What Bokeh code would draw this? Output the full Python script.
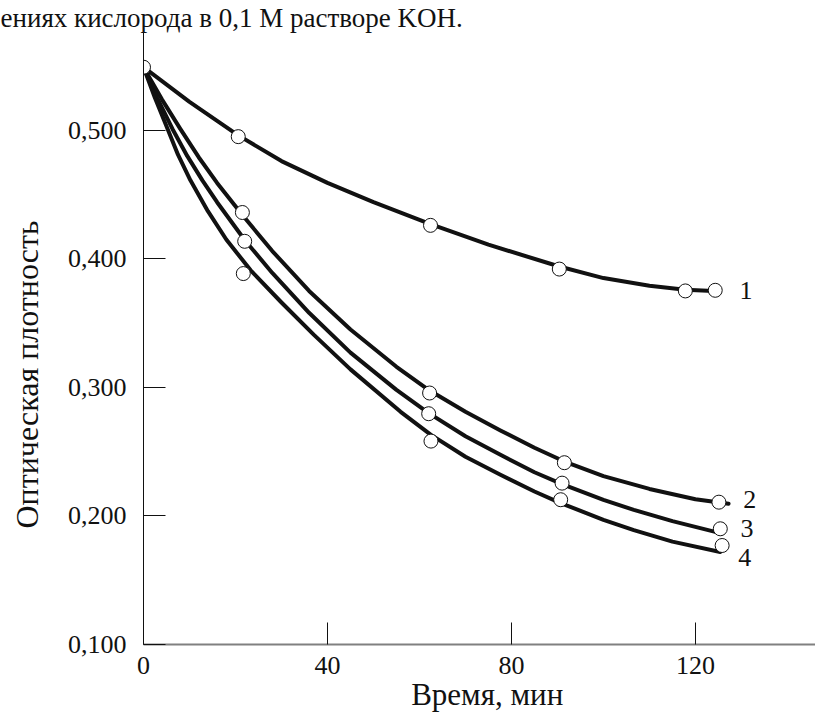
from bokeh.plotting import figure
from bokeh.models import Range1d, FixedTicker, CustomJSTickFormatter, ColumnDataSource
from bokeh.core.properties import value
from bokeh.embed import file_html
from bokeh.resources import INLINE

# ---- data ----
title_text = "ениях кислорода в 0,1 М растворе KOH."
x_title = "Время, мин"
y_title = "Оптическая плотность"
x_ticks = [0, 40, 80, 120]
y_ticks = [0.1, 0.2, 0.3, 0.4, 0.5]

# measured points (circles)
p1_t = [0, 20.6, 62.4, 90.4, 117.8, 124.3]
p1_y = [0.549, 0.495, 0.426, 0.392, 0.375, 0.3755]
p2_t = [21.5, 62.2, 91.5, 125.1]
p2_y = [0.436, 0.2956, 0.2414, 0.2107]
p3_t = [22.0, 62.0, 91.0, 125.4]
p3_y = [0.4136, 0.2795, 0.2255, 0.190]
p4_t = [21.7, 62.5, 90.7, 125.8]
p4_y = [0.3885, 0.2582, 0.2126, 0.177]

# smooth drawn curves
c1_t = [0, 10, 20.6, 30, 40, 50, 62.4, 75, 90.4, 100, 110, 117.8, 123.9]
c1_y = [0.549, 0.522, 0.496, 0.476, 0.459, 0.444, 0.427, 0.411, 0.394, 0.385, 0.379, 0.376, 0.375]
c2_t = [0, 4, 8, 12, 16, 21.5, 28, 36, 45, 55, 62.2, 70, 77.6, 85, 91.4, 100, 110, 120, 127.2]
c2_y = [0.549, 0.524, 0.501, 0.479, 0.459, 0.434, 0.406, 0.375, 0.345, 0.316, 0.2975, 0.281,
        0.2665, 0.253, 0.2425, 0.231, 0.221, 0.213, 0.2095]
c3_t = [0, 3, 6.3, 9.5, 12.8, 16, 22, 28, 36, 45, 55, 62, 70, 77.6, 85, 91, 100, 106.6, 115, 124.3]
c3_y = [0.549, 0.525, 0.501, 0.480, 0.461, 0.444, 0.4146, 0.389, 0.358, 0.327, 0.298, 0.280,
        0.262, 0.2475, 0.234, 0.2248, 0.2125, 0.2047, 0.196, 0.1876]
c4_t = [0, 2.5, 5, 7.5, 10.2, 14, 18, 23.3, 30, 37, 45, 55.9, 62.5, 70, 77.6, 85, 90.7, 100,
        106.6, 115, 125.4]
c4_y = [0.549, 0.525, 0.503, 0.481, 0.461, 0.437, 0.415, 0.391, 0.366, 0.341, 0.314, 0.281,
        0.263, 0.246, 0.232, 0.219, 0.210, 0.197, 0.189, 0.180, 0.172]

curve_names = ["1", "2", "3", "4"]
name_t = [129.6, 130.4, 129.8, 129.3]
name_y = [0.375, 0.213, 0.190, 0.168]

FONT = "Liberation Serif"
CYR_FONT = "Liberation Serif, DejaVu Serif"
INK = "#111111"
NBSP = "\u00a0"

p = figure(width=815, height=719, output_backend="svg", toolbar_location=None,
           x_range=Range1d(0, 146.1), y_range=Range1d(0.1, 0.576),
           min_border_left=143, min_border_right=0, min_border_top=32, min_border_bottom=75)
p.outline_line_color = None
p.xgrid.visible = False
p.ygrid.visible = False
p.background_fill_color = "white"
p.border_fill_color = "white"

# caption (top, partially shown in the source)
p.title.text = title_text
p.title.align = "left"
p.title.offset = -143
p.title.standoff = 0
p.title.text_font = CYR_FONT
p.title.text_font_size = "27px"
p.title.text_font_style = "normal"
p.title.text_color = INK

for ts, ys in [(c1_t, c1_y), (c2_t, c2_y), (c3_t, c3_y), (c4_t, c4_y)]:
    p.line(ts, ys, line_width=4, line_color=INK, line_join="round", line_cap="round")

for ts, ys in [(p1_t, p1_y), (p2_t, p2_y), (p3_t, p3_y), (p4_t, p4_y)]:
    p.scatter(ts, ys, size=14, marker="circle", fill_color="white", line_color=INK, line_width=1)

src = ColumnDataSource(dict(x=name_t, y=name_y, t=curve_names))
p.text(x="x", y="y", text="t", source=src, text_font=value(FONT), text_font_size="26px",
       text_align="left", text_baseline="middle", text_color=INK)

# axes
p.xaxis.ticker = FixedTicker(ticks=x_ticks)
p.yaxis.ticker = FixedTicker(ticks=y_ticks)
p.yaxis.formatter = CustomJSTickFormatter(code="return tick.toFixed(3).replace('.', ',');")
for ax in (p.xaxis, p.yaxis):
    ax.major_tick_in = 22
    ax.major_tick_out = 0
    ax.minor_tick_line_color = None
    ax.major_tick_line_color = INK
    ax.major_label_text_font = FONT
    ax.major_label_text_font_size = "26px"
    ax.major_label_text_color = INK
    ax.axis_label_text_font = CYR_FONT
    ax.axis_label_text_font_style = "normal"
    ax.axis_label_text_color = INK
p.yaxis.axis_label_text_font_size = "32px"
p.xaxis.axis_label_text_font_size = "31px"
p.xaxis.axis_line_color = "#808080"
p.xaxis.axis_line_width = 2
p.yaxis.axis_line_color = INK
p.yaxis.axis_line_width = 1
p.xaxis.major_label_standoff = 12
p.yaxis.major_label_standoff = 17

# axis titles (non-breaking padding nudges them off-centre as in the source)
p.yaxis.axis_label = y_title + NBSP * 9
p.yaxis.axis_label_standoff = 20
p.xaxis.axis_label = NBSP * 2 + x_title
p.xaxis.axis_label_standoff = 0

open("out.html", "w").write(file_html(p, INLINE))
